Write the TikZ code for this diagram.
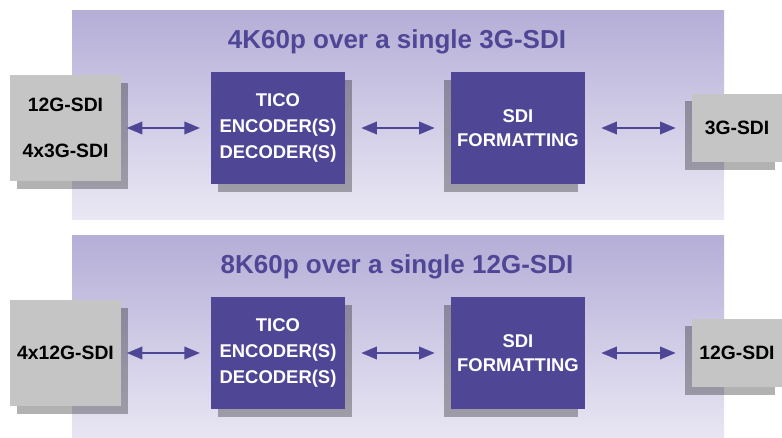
\documentclass[tikz,border=0pt]{standalone}
\usepackage{fontspec}
\setmainfont{Liberation Sans}
\usetikzlibrary{arrows.meta,shadows}
\definecolor{tico}{RGB}{79,71,150}
\definecolor{boxgray}{RGB}{197,197,197}
\definecolor{bandtop}{RGB}{181,174,215}
\definecolor{bandbot}{RGB}{234,232,244}

\begin{document}
\begin{tikzpicture}[x=0.02cm,y=-0.02cm,
		band/.style={top color=bandtop, bottom color=bandbot, draw=none},
		title/.style={text=tico, font=\fontsize{14.8}{17}\selectfont\bfseries},
		graybox/.style={fill=boxgray, draw=none, align=center, inner sep=0pt,
			font=\fontsize{11}{13}\selectfont\bfseries},
		ticobox/.style={fill=tico, draw=none, text=white, align=center, inner sep=0pt,
			minimum width=2.68cm, minimum height=2.24cm,
			font=\fontsize{10.5}{15}\selectfont\bfseries},
		shadowR/.style={drop shadow={shadow xshift=4pt, shadow yshift=-4.5pt,
			fill=black, opacity=0.3}},
		shadowL/.style={drop shadow={shadow xshift=-4pt, shadow yshift=-4.5pt,
			fill=black, opacity=0.3}},
		biarrow/.style={draw=tico, line width=1.6pt,
			{Triangle[length=9pt,width=7pt]}-{Triangle[length=9pt,width=7pt]}}]
	\clip (0,0) rectangle (782,438);
	\fill[white] (0,0) rectangle (782,438);
	\fill[band] (72,11) rectangle (724,220); % row 1
	\fill[band] (72,236) rectangle (724,445); % row 2

	% 4K60p
	\node[title] (titleA) at (397,42) {4K60p over a single 3G-SDI};
	\node[graybox, shadowR, minimum width=2.22cm, minimum height=2.12cm] (srcA) at (65.5,128)
		{12G-SDI\\[13pt]4x3G-SDI};
	\node[ticobox, shadowR] (ticoA) at (278,128) {TICO\\ENCODER(S)\\DECODER(S)};
	\node[ticobox, shadowL, font=\fontsize{10.5}{14}\selectfont\bfseries] (fmtA) at (518,128)
		{SDI\\FORMATTING};
	\node[graybox, shadowL, minimum width=1.8cm, minimum height=1.38cm] (outA) at (737,128)
		{3G-SDI};
	\draw[biarrow, shorten <=3pt, shorten >=6pt] (srcA) -- (ticoA);
	\draw[biarrow, shorten <=9pt, shorten >=9pt] (ticoA) -- (fmtA);
	\draw[biarrow, shorten <=9pt, shorten >=9pt] (fmtA) -- (outA);

	% 8K60p
	\node[title] (titleB) at (397,267) {8K60p over a single 12G-SDI};
	\node[graybox, shadowR, minimum width=2.22cm, minimum height=2.12cm] (srcB) at (65.5,353)
		{4x12G-SDI};
	\node[ticobox, shadowR] (ticoB) at (278,353) {TICO\\ENCODER(S)\\DECODER(S)};
	\node[ticobox, shadowL, font=\fontsize{10.5}{14}\selectfont\bfseries] (fmtB) at (518,353)
		{SDI\\FORMATTING};
	\node[graybox, shadowL, minimum width=1.8cm, minimum height=1.38cm] (outB) at (737,353)
		{12G-SDI};
	\draw[biarrow, shorten <=3pt, shorten >=6pt] (srcB) -- (ticoB);
	\draw[biarrow, shorten <=9pt, shorten >=9pt] (ticoB) -- (fmtB);
	\draw[biarrow, shorten <=9pt, shorten >=9pt] (fmtB) -- (outB);
\end{tikzpicture}
\end{document}
